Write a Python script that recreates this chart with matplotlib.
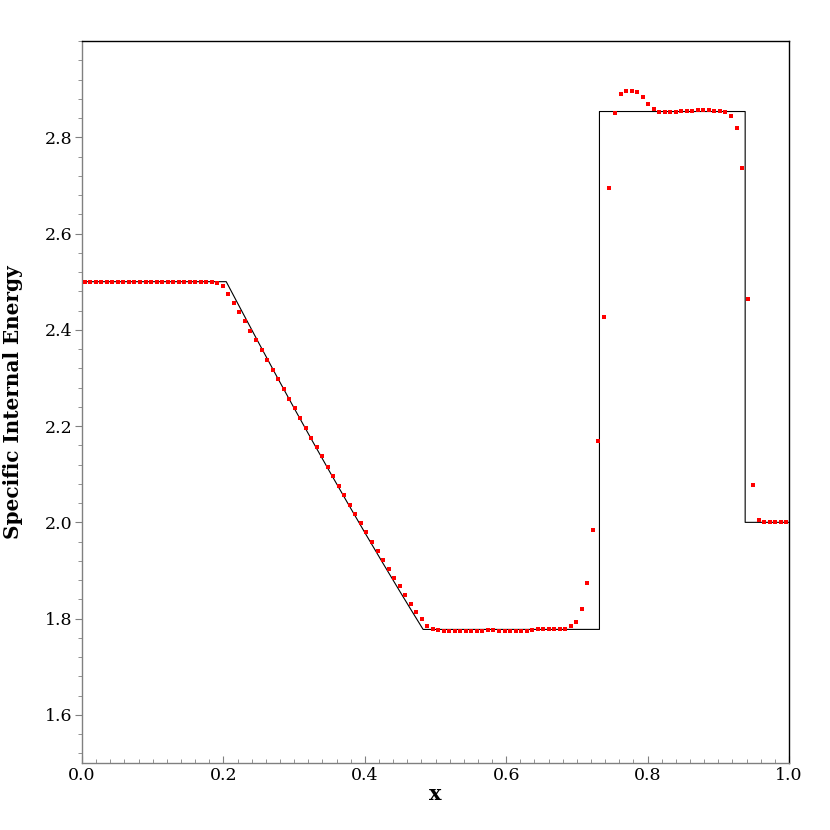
import matplotlib
matplotlib.use('Agg')
import matplotlib.pyplot as plt
from matplotlib.ticker import MultipleLocator
import numpy as np

# numerical solution, one value per cell (128 cells on [0, 1])
n_cells = 128
energy = [
    2.500, 2.500, 2.500, 2.500, 2.500, 2.500, 2.500, 2.500,
    2.500, 2.500, 2.500, 2.500, 2.500, 2.500, 2.500, 2.500,
    2.499, 2.499, 2.499, 2.499, 2.499, 2.499, 2.499, 2.499,
    2.497, 2.490, 2.474, 2.456, 2.437, 2.419, 2.398, 2.379,
    2.358, 2.338, 2.317, 2.297, 2.277, 2.257, 2.237, 2.217,
    2.196, 2.176, 2.156, 2.137, 2.116, 2.097, 2.076, 2.056,
    2.037, 2.017, 1.998, 1.979, 1.959, 1.941, 1.922, 1.904,
    1.885, 1.867, 1.850, 1.831, 1.814, 1.799, 1.785, 1.779,
    1.776, 1.775, 1.774, 1.774, 1.774, 1.774, 1.775, 1.775,
    1.775, 1.776, 1.776, 1.775, 1.775, 1.775, 1.775, 1.775,
    1.775, 1.776, 1.778, 1.778, 1.778, 1.778, 1.778, 1.778,
    1.784, 1.794, 1.819, 1.873, 1.985, 2.170, 2.426, 2.695,
    2.850, 2.890, 2.896, 2.896, 2.894, 2.883, 2.870, 2.858,
    2.853, 2.853, 2.853, 2.853, 2.855, 2.855, 2.855, 2.857,
    2.857, 2.857, 2.855, 2.855, 2.853, 2.844, 2.820, 2.736,
    2.463, 2.078, 2.004, 2.000, 2.000, 2.000, 2.000, 2.000,
]
x_cells = (np.arange(n_cells) + 0.5) / n_cells

# exact solution (vertices of the reference curve)
x_exact = [0.0, 0.204, 0.225, 0.25, 0.275, 0.30, 0.325, 0.35, 0.375,
           0.40, 0.425, 0.45, 0.465, 0.4825, 0.7319, 0.7319, 0.938, 0.938, 1.0]
e_exact = [2.5, 2.5, 2.4417, 2.3727, 2.3045, 2.2374, 2.1713, 2.1061, 2.0420,
           1.9788, 1.9167, 1.8555, 1.8193, 1.7775, 1.7776, 2.8535, 2.8535, 2.0, 2.0]

y_ticks = [1.6, 1.8, 2.0, 2.2, 2.4, 2.6, 2.8]

plt.rcParams['font.family'] = ['DejaVu Serif']

fig = plt.figure(figsize=(8.3, 8.3), dpi=100)
ax = fig.add_axes([0.0988, 0.0807, 0.8518, 0.8699])

ax.plot(x_exact, e_exact, color='black', lw=0.8, zorder=2)
ax.plot(x_cells, energy, 's', color='red', ms=3.4, mew=0, zorder=3)

ax.set_xlim(0, 1)
ax.set_ylim(1.5, 3.0)
ax.xaxis.set_major_locator(MultipleLocator(0.2))
ax.xaxis.set_minor_locator(MultipleLocator(0.02))
ax.set_yticks(y_ticks)
ax.yaxis.set_minor_locator(MultipleLocator(0.04))

gray = '#808080'
ax.spines['left'].set_color(gray)
ax.spines['bottom'].set_color(gray)
ax.spines['top'].set_color('black')
ax.spines['right'].set_color('black')
for s in ax.spines.values():
    s.set_linewidth(1.0)

ax.tick_params(axis='x', which='major', direction='in', length=5, color=gray,
               labelsize=12.5, pad=3)
ax.tick_params(axis='x', which='minor', direction='in', length=3, color=gray)
ax.tick_params(axis='y', which='major', direction='out', length=5, color=gray,
               labelsize=12.5, pad=2)
ax.tick_params(axis='y', which='minor', direction='out', length=3, color=gray)

ax.set_xlabel('x', fontsize=15, fontweight='bold', labelpad=0)
ax.set_ylabel('Specific Internal Energy', fontsize=14.4, fontweight='bold')
ax.yaxis.set_label_coords(-0.083, 0.5)

fig.savefig('out.png', dpi=100)
